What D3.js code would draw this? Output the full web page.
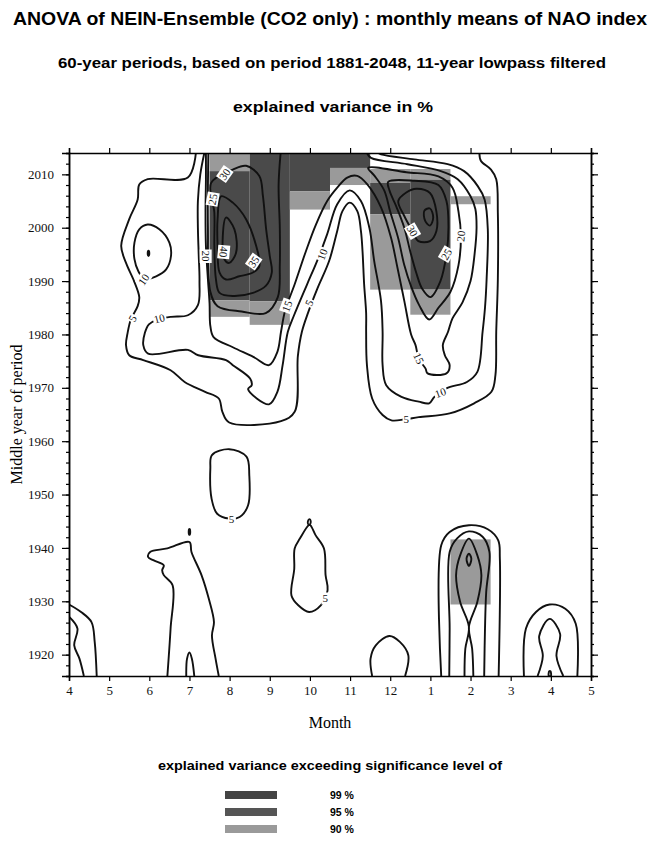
<!DOCTYPE html>
<html>
<head>
<meta charset="utf-8">
<script src="https://cdn.jsdelivr.net/npm/d3@7"></script>
<style>
  body { margin: 0; background: #fff; }
  svg { display: block; }
</style>
</head>
<body>
<div id="chart"></div>
<script>
// month axis runs April .. May of next year (position 0..13)
const monthLabels = ["4","5","6","7","8","9","10","11","12","1","2","3","4","5"];
const yearTicks = [1920,1930,1940,1950,1960,1970,1980,1990,2000,2010];
const yearRange = [1916, 2014];

// significance cells: [month position, from year, to year, level]
const sigCells = [
  [4, 2010.6, 2014, 90], [4, 1986.4, 2010.6, 99], [4, 1983.3, 1986.4, 90],
  [5, 1986.2, 2014, 99], [5, 1981.8, 1986.2, 90],
  [6, 2006.8, 2014, 99], [6, 2003.4, 2006.8, 90],
  [7, 2011.2, 2014, 99], [7, 2008.0, 2011.2, 90],
  [8, 2008.4, 2011.0, 90], [8, 2002.5, 2008.4, 99], [8, 1988.4, 2002.5, 90],
  [9, 2009.0, 2011.0, 90], [9, 1988.4, 2009.0, 99], [9, 1983.7, 1988.4, 90],
  [10, 2004.4, 2005.9, 90], [10, 1929.4, 1941.6, 90]
];
const sigLevels = [99, 95, 90];
const sigColors = {99: "#4a4a4a", 95: "#555555", 90: "#9a9a9a"};

// contour lines, [month position, middle year]
const c5Main = [[3.16,2014],[2.96,2009.4],[1.96,2009.1],[1.75,2008.1],[1.71,2005.3],[1.50,2001.6],[1.30,1996.6],[1.42,1993.4],[1.62,1990.0],[1.75,1987.0],[1.71,1985.3],[1.54,1982.8],[1.46,1980.3],[1.42,1978],[1.50,1976.1],[1.85,1975.2],[2.53,1973.3],[2.88,1971.1],[3.39,1969.25],[3.73,1968],[3.82,1965.5],[3.99,1963.5],[5.28,1963.75],[5.62,1965.5],[5.70,1976],[5.80,1980.5],[5.95,1984],[6.18,1988.5],[6.48,1993.8],[6.68,1999.4],[6.81,2003.1],[6.99,2004.7],[7.18,2003.1],[7.27,1999.4],[7.31,1995.6],[7.35,1989.4],[7.40,1984],[7.40,1980.5],[7.42,1974.25],[7.55,1968],[7.81,1964.9],[8.03,1963.9],[8.37,1964.1],[8.71,1964.5],[9.48,1965.2],[10.09,1967.1],[10.52,1969.25],[10.62,1972.4],[10.64,1980.5],[10.68,1990.3],[10.68,2002.8],[10.64,2009.1],[10.51,2010.9],[10.26,2012.5],[10.22,2014]];
const c10Main = [[3.37,2014],[3.27,2010],[3.21,2005],[3.21,2000],[3.23,1995],[3.25,1990],[3.21,1985.5],[2.96,1983.6],[2.54,1983.3],[2.17,1982.7],[1.99,1981.9],[1.89,1980.3],[1.85,1978],[1.97,1976.4],[2.96,1977.1],[3.22,1976.1],[3.91,1975.2],[4.08,1974.25],[4.51,1971.75],[4.55,1970.5],[4.46,1969.75],[4.98,1966.9],[5.19,1969.25],[5.32,1974.25],[5.45,1980.5],[5.6,1983.5],[5.93,1989.4],[6.18,1993.8],[6.43,1998.8],[6.68,2004.4],[6.99,2007.0],[7.27,2005.0],[7.48,2000.0],[7.60,1993.8],[7.77,1986.3],[7.81,1980.5],[7.81,1974.25],[7.90,1970.5],[8.28,1968.3],[8.71,1967.4],[8.97,1967.1],[9.10,1968.3],[9.40,1969.9],[9.91,1971.1],[10.17,1973],[10.30,1980.5],[10.36,1985],[10.40,1990.3],[10.43,1999.7],[10.35,2005.3],[10.18,2007.8],[9.84,2010.6],[9.43,2011.9],[8.60,2012.8],[7.77,2013.75],[7.70,2014]];
const c15Main = [[3.41,2014],[3.41,2009],[3.40,2003],[3.41,1996.6],[3.46,1990.3],[3.50,1985.9],[3.52,1981.6],[3.60,1979.5],[4.08,1977.6],[4.59,1975.8],[4.98,1974.25],[5.19,1976.75],[5.28,1980.5],[5.38,1984.4],[5.62,1989.4],[5.90,1995.6],[6.15,2000.6],[6.43,2005.0],[6.68,2007.5],[6.93,2009.4],[7.18,2009.7],[7.43,2008.1],[7.77,2003.8],[8.02,1998.1],[8.18,1992.5],[8.35,1986.3],[8.52,1980.0],[8.63,1978],[8.71,1975.5],[8.88,1973.6],[8.93,1972.7],[9.40,1972.7],[9.48,1974.25],[9.36,1976.1],[9.31,1978],[9.44,1980.5],[9.55,1983],[9.8,1986],[10.0,1990],[10.1,1995],[10.15,2000],[10.12,2003.5],[10.0,2005.9],[9.68,2009.1],[9.26,2010.6],[8.43,2011.9],[7.52,2013.1],[7.42,2014]];
const c20Left = [[3.47,2014],[3.46,2000],[3.52,1988],[3.70,1985.3],[4.3,1984.3],[4.9,1984],[5.2,1987],[5.25,1993],[5.25,2000],[5.22,2008],[5.27,2014]];
const c30Left = [[3.54,2008.4],[4.08,2010.9],[4.41,2011.6],[4.74,2009.7],[4.83,2005.9],[4.91,1999.7],[5.0,1994.7],[5.05,1991.6],[4.9,1989.1],[4.58,1987.8],[4.08,1987.2],[3.75,1987.8],[3.66,1990.3],[3.62,1996.6],[3.62,2002.8]];
const c35Left = [[3.79,2005.9],[4.08,2004.7],[4.41,2001.6],[4.66,1996.6],[4.74,1992.8],[4.58,1991.6],[4.24,1990.9],[3.91,1990.3],[3.75,1991.6],[3.70,1996.6],[3.70,2001.6]];
const c40Left = [[3.91,2001.9],[4.12,1999.7],[4.16,1995.3],[3.99,1993.4],[3.87,1994.1],[3.83,1998.4]];
const c20Right = [[7.45,2011.2],[8.4,2010.4],[9.2,2009.6],[9.55,2007.5],[9.7,2003],[9.76,1998.4],[9.7,1993],[9.5,1988],[9.2,1985],[8.97,1982.8],[8.72,1985.5],[8.52,1989],[8.35,1993],[8.2,1998],[8.0,2003],[7.85,2007],[7.6,2009.8]];
const c25Right = [[7.95,2008.6],[8.6,2008.8],[9.2,2008],[9.4,2005],[9.45,2000],[9.4,1995],[9.25,1990],[9.0,1987],[8.8,1988.5],[8.65,1991.5],[8.5,1995.5],[8.35,2000],[8.15,2004],[7.98,2007]];
const c30Right = [[8.2,2005.0],[8.4,2006.6],[8.65,2007.3],[8.99,2006.5],[9.15,2003],[9.15,1999.4],[8.99,1997.5],[8.7,1997.5],[8.55,1999.4],[8.35,2002.2]];
const c35Right = [[8.85,2003.2],[8.99,2003.6],[9.07,2001.9],[8.99,2000.4],[8.87,2001.3]];
const ovalJun = [[1.96,2000.6],[2.25,1999.7],[2.50,1997.2],[2.54,1994.7],[2.42,1992.2],[2.17,1990.9],[1.88,1990.4],[1.73,1991.8],[1.63,1994.1],[1.63,1997.2],[1.75,1999.7]];
const dotJun = [[1.96,1995.2],[1.98,1995.7],[2.0,1995.2],[1.98,1994.7]];
const leftCorner5 = [[0,1929.4],[0.30,1928],[0.56,1926.1],[0.64,1922.4],[0.69,1916]];
const leftCorner10 = [[0,1927.1],[0.21,1924.9],[0.13,1921.75],[0.26,1919.25],[0.37,1916]];
const jul5 = [[2.45,1916],[2.53,1924.9],[2.58,1933],[2.36,1934.9],[2.32,1935.8],[2.36,1936.75],[2.10,1937.7],[1.97,1938.3],[2.02,1939.25],[2.45,1939.9],[3.0,1941.1],[3.05,1939.25],[3.30,1934.9],[3.48,1930.5],[3.61,1926.1],[3.56,1923.6],[3.65,1919.25],[3.73,1916]];
const julSpike = [[2.92,1916],[2.94,1919.25],[3.0,1920.4],[3.06,1919.25],[3.12,1916]];
const julDot = [[2.99,1942.5],[3.01,1942.5],[3.01,1943.5],[2.99,1943.5]];
const aug5 = [[3.56,1957.4],[3.99,1958.5],[4.42,1957.1],[4.49,1953.6],[4.46,1948],[4.25,1945.8],[3.99,1945.5],[3.69,1946.4],[3.55,1949.25],[3.52,1954.9]];
const oct5 = [[5.97,1944.25],[5.75,1941.75],[5.62,1939.9],[5.61,1936.1],[5.54,1931.1],[5.71,1929.25],[5.98,1928],[6.27,1929.25],[6.44,1932.1],[6.39,1934.9],[6.35,1939.9],[6.14,1942.4],[6.01,1944.25]];
const octLoop = [[5.96,1944.4],[5.95,1945.0],[5.99,1945.4],[6.02,1945.0],[6.0,1944.4]];
const dec5 = [[7.55,1916],[7.51,1919.25],[7.64,1921.75],[7.98,1923.5],[8.24,1922.4],[8.45,1919.9],[8.37,1916]];
const feb5 = [[9.27,1916],[9.27,1940.5],[9.48,1943],[9.96,1944.25],[10.43,1943.5],[10.69,1941.4],[10.73,1938],[10.70,1916]];
const feb10 = [[9.47,1916],[9.48,1924.9],[9.48,1939.25],[9.66,1941.75],[9.96,1943.1],[10.30,1942.1],[10.47,1939.25],[10.39,1931.75],[10.36,1924.9],[10.34,1916]];
const feb15 = [[9.85,1916],[9.87,1921.1],[9.96,1925.2],[9.74,1929.9],[9.64,1934.9],[9.74,1938.6],[9.96,1941.75],[10.17,1938.6],[10.27,1934.9],[10.17,1929.9],[9.96,1925.2],[10.04,1921.1],[10.07,1916]];
const feb20 = [[9.96,1938.9],[10.02,1938],[9.96,1936.6],[9.90,1938]];
const apr5 = [[11.33,1916],[11.38,1924.9],[11.63,1928],[11.97,1929.4],[12.36,1928.6],[12.62,1925.8],[12.66,1916]];
const apr10 = [[11.67,1916],[11.80,1919.75],[11.71,1923.5],[11.97,1926.7],[12.23,1923.9],[12.14,1919.75],[12.31,1916]];
const aprDot = [[11.95,1916],[11.96,1916.9],[11.99,1916.9],[12.0,1916]];

const openLines = [c5Main, c10Main, c15Main, c20Left, leftCorner5, leftCorner10, jul5, julSpike, dec5, feb5, feb10, feb15, apr5, apr10];
const closedLines = [c30Left, c35Left, c40Left, c20Right, c25Right, c30Right, c35Right, ovalJun, dotJun, julDot, aug5, oct5, octLoop, feb20, aprDot];

// contour labels: [month position, year, text, rotation]
const contourLabels = [
  [1.58, 1983.0, "5", -60], [2.25, 1983.0, "10", -15], [1.86, 1990.3, "10", -55],
  [3.40, 1994.7, "20", 90], [3.88, 2010.0, "30", -55], [3.58, 2005.3, "25", -80],
  [3.85, 1995.5, "40", 95], [4.60, 1993.6, "35", -55],
  [5.43, 1985.3, "15", -70], [5.98, 1985.9, "5", -65], [6.31, 1995.0, "10", -70],
  [8.71, 1975.5, "15", 65], [9.25, 1969.1, "10", -20], [8.40, 1964.2, "5", 0],
  [9.76, 1998.4, "20", -85], [8.55, 1999.4, "30", 60], [9.40, 1995.0, "25", -60],
  [4.05, 1945.3, "5", 0], [6.38, 1930.5, "5", 0]
];

const W = 664, H = 841;
const plot = { left: 69, right: 591, top: 153, bottom: 676 };

const svg = d3.select('#chart').append('svg')
  .attr('width', W)
  .attr('height', H);

const x = d3.scaleLinear().domain([0, 13]).range([plot.left, plot.right]);
const y = d3.scaleLinear().domain(yearRange).range([plot.bottom, plot.top]);

svg.append('clipPath').attr('id', 'clip')
  .append('rect')
  .attr('x', plot.left).attr('y', plot.top)
  .attr('width', plot.right - plot.left).attr('height', plot.bottom - plot.top);

const inner = svg.append('g').attr('clip-path', 'url(#clip)');

// shaded significance cells
inner.selectAll('.cell')
  .data(sigCells)
  .enter()
  .append('rect')
  .attr('class', 'cell')
  .attr('x', d => x(d[0] - 0.5))
  .attr('width', d => x(d[0] + 0.5) - x(d[0] - 0.5))
  .attr('y', d => y(d[2]))
  .attr('height', d => y(d[1]) - y(d[2]))
  .attr('fill', d => sigColors[d[3]]);

// contour lines
const lineOpen = d3.line().x(d => x(d[0])).y(d => y(d[1])).curve(d3.curveCatmullRom.alpha(0.5));
const lineClosed = d3.line().x(d => x(d[0])).y(d => y(d[1])).curve(d3.curveCatmullRomClosed.alpha(0.5));

inner.selectAll('.open')
  .data(openLines)
  .enter()
  .append('path')
  .attr('d', lineOpen)
  .attr('fill', 'none')
  .attr('stroke', '#111')
  .attr('stroke-width', 1.9)
  .attr('stroke-linejoin', 'round');

inner.selectAll('.closed')
  .data(closedLines)
  .enter()
  .append('path')
  .attr('d', lineClosed)
  .attr('fill', 'none')
  .attr('stroke', '#111')
  .attr('stroke-width', 1.9)
  .attr('stroke-linejoin', 'round');

// contour labels with white boxes
const lab = inner.selectAll('.clab')
  .data(contourLabels)
  .enter()
  .append('g')
  .attr('transform', d => `translate(${x(d[0])},${y(d[1])}) rotate(${d[3]})`);

lab.append('text')
  .attr('text-anchor', 'middle')
  .attr('dy', '0.35em')
  .attr('font-family', '"Liberation Serif", "Times New Roman", serif')
  .attr('font-size', '11px')
  .attr('fill', '#111')
  .text(d => d[2]);

lab.each(function() {
  const g = d3.select(this);
  const bb = g.select('text').node().getBBox();
  g.insert('rect', 'text')
    .attr('x', bb.x - 1).attr('y', bb.y)
    .attr('width', bb.width + 2).attr('height', bb.height)
    .attr('fill', '#fff');
});

// axes
const serif = '"Liberation Serif", "Times New Roman", serif';
const minorYears = d3.range(1916, 2015, 2);

function styleAxis(g) {
  g.select('.domain').attr('stroke-width', 1.5);
  g.selectAll('.tick line').attr('stroke-width', 1.2);
  g.selectAll('.tick text').attr('font-family', serif).attr('font-size', '13px').attr('fill', '#111');
}

svg.append('g')
  .attr('transform', `translate(${plot.left},0)`)
  .call(d3.axisLeft(y).tickValues(minorYears).tickSize(3).tickFormat(''))
  .call(styleAxis);
svg.append('g')
  .attr('transform', `translate(${plot.left},0)`)
  .call(d3.axisLeft(y).tickValues(yearTicks).tickSize(7).tickPadding(8).tickFormat(d3.format('d')))
  .call(styleAxis);

svg.append('g')
  .attr('transform', `translate(${plot.right},0)`)
  .call(d3.axisRight(y).tickValues(minorYears).tickSize(3).tickFormat(''))
  .call(styleAxis);
svg.append('g')
  .attr('transform', `translate(${plot.right},0)`)
  .call(d3.axisRight(y).tickValues(yearTicks).tickSize(7).tickFormat(''))
  .call(styleAxis);

svg.append('g')
  .attr('transform', `translate(0,${plot.bottom})`)
  .call(d3.axisBottom(x).tickValues(d3.range(14)).tickSize(5).tickPadding(5).tickFormat(i => monthLabels[i]))
  .call(styleAxis);
svg.append('g')
  .attr('transform', `translate(0,${plot.top})`)
  .call(d3.axisTop(x).tickValues(d3.range(14)).tickSize(5).tickFormat(''))
  .call(styleAxis);

// titles
const sans = '"Liberation Sans", Arial, Helvetica, sans-serif';
function title(txt, xPos, yPos, size, len) {
  svg.append('text').attr('x', xPos).attr('y', yPos).attr('text-anchor', 'middle')
    .attr('font-family', sans).attr('font-weight', 'bold').attr('font-size', size)
    .attr('textLength', len).attr('lengthAdjust', 'spacingAndGlyphs')
    .text(txt);
}
title('ANOVA of NEIN-Ensemble (CO2 only) : monthly means of NAO index', 330, 25, '18px', 634);
title('60-year periods, based on period 1881-2048, 11-year lowpass filtered', 332, 68, '14.5px', 548);
title('explained variance in %', 333, 112, '14.5px', 200);

svg.append('text')
  .attr('transform', `translate(22,${(plot.top + plot.bottom) / 2}) rotate(-90)`)
  .attr('text-anchor', 'middle')
  .attr('font-family', serif).attr('font-size', '16px')
  .text('Middle year of period');

svg.append('text').attr('x', (plot.left + plot.right) / 2).attr('y', 728).attr('text-anchor', 'middle')
  .attr('font-family', serif).attr('font-size', '16px')
  .text('Month');

// legend
title('explained variance exceeding significance level of', 330, 770, '13px', 344);

const leg = svg.selectAll('.leg')
  .data(sigLevels)
  .enter()
  .append('g')
  .attr('transform', (d, i) => `translate(225,${791 + i * 17})`);
leg.append('rect')
  .attr('width', 52).attr('height', 8)
  .attr('fill', d => d === 99 ? '#444' : sigColors[d]);
leg.append('text')
  .attr('x', 105).attr('y', 8)
  .attr('font-family', sans).attr('font-weight', 'bold').attr('font-size', '10.5px')
  .text(d => d + ' %');
</script>
</body>
</html>
